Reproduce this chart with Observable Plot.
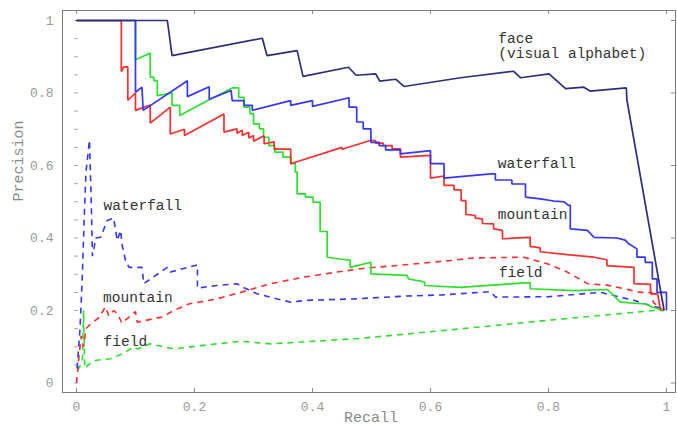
<!DOCTYPE html>
<html>
<head>
<meta charset="utf-8">
<script src="https://cdn.jsdelivr.net/npm/d3@7"></script>
<script src="https://cdn.jsdelivr.net/npm/@observablehq/plot@0.6"></script>
<style>
  html, body { margin: 0; padding: 0; background: #fff; }
  #chart svg { display: block; }
</style>
</head>
<body>
<div id="chart"></div>
<script>
// ---- Axis ticks ----
const xTicks = [0, 0.2, 0.4, 0.6, 0.8, 1];
const yTicks = [0, 0.2, 0.4, 0.6, 0.8, 1];
const yMinorTicks = [0, 0.05, 0.1, 0.15, 0.2, 0.25, 0.3, 0.35, 0.4, 0.45, 0.5, 0.55, 0.6, 0.65, 0.7, 0.75, 0.8, 0.85, 0.9, 0.95, 1];

// ---- face (visual alphabet), solid ----
const faceRecall    = [0, 0.154, 0.162, 0.315, 0.323, 0.374, 0.384, 0.461, 0.474, 0.507, 0.514, 0.541, 0.555, 0.651, 0.741, 0.753, 0.801, 0.829, 0.86, 0.871, 0.932, 0.933, 0.996];
const facePrecision = [1, 1, 0.903, 0.951, 0.903, 0.917, 0.846, 0.871, 0.849, 0.853, 0.833, 0.838, 0.818, 0.842, 0.86, 0.842, 0.853, 0.812, 0.816, 0.805, 0.814, 0.78, 0.2];

// ---- waterfall, solid ----
const waterfallRecall    = [0, 0.1, 0.1, 0.111, 0.113, 0.188, 0.188, 0.225, 0.225, 0.262, 0.264, 0.284, 0.284, 0.298, 0.298, 0.363, 0.363, 0.4, 0.4, 0.462, 0.462, 0.475, 0.475, 0.486, 0.486, 0.499, 0.499, 0.513, 0.513, 0.524, 0.524, 0.549, 0.549, 0.6, 0.6, 0.623, 0.623, 0.702, 0.71, 0.71, 0.738, 0.738, 0.761, 0.761, 0.786, 0.809, 0.826, 0.834, 0.837, 0.837, 0.866, 0.877, 0.916, 0.93, 0.936, 0.95, 0.95, 0.964, 0.964, 0.976, 0.976, 0.984, 0.984, 1.0, 1.0];
const waterfallPrecision = [1, 1, 0.802, 0.816, 0.752, 0.834, 0.79, 0.817, 0.783, 0.807, 0.779, 0.779, 0.766, 0.766, 0.752, 0.779, 0.766, 0.779, 0.763, 0.787, 0.761, 0.761, 0.72, 0.72, 0.701, 0.701, 0.664, 0.664, 0.655, 0.655, 0.643, 0.643, 0.632, 0.641, 0.605, 0.605, 0.565, 0.577, 0.577, 0.56, 0.56, 0.549, 0.549, 0.513, 0.508, 0.502, 0.5, 0.49, 0.49, 0.425, 0.421, 0.402, 0.4, 0.394, 0.384, 0.37, 0.347, 0.347, 0.333, 0.333, 0.287, 0.287, 0.25, 0.25, 0.2];

// ---- mountain, solid ----
const mountainRecall    = [0, 0.076, 0.076, 0.08, 0.087, 0.087, 0.1, 0.1, 0.125, 0.125, 0.159, 0.159, 0.183, 0.183, 0.25, 0.25, 0.272, 0.272, 0.281, 0.281, 0.292, 0.292, 0.3, 0.3, 0.318, 0.318, 0.335, 0.335, 0.363, 0.363, 0.45, 0.45, 0.498, 0.507, 0.507, 0.52, 0.52, 0.535, 0.535, 0.549, 0.549, 0.6, 0.6, 0.623, 0.623, 0.64, 0.64, 0.652, 0.652, 0.66, 0.66, 0.676, 0.676, 0.688, 0.688, 0.707, 0.707, 0.722, 0.722, 0.769, 0.769, 0.786, 0.786, 0.832, 0.877, 0.899, 0.899, 0.945, 0.945, 0.973, 0.973, 0.985, 0.99];
const mountainPrecision = [1, 1, 0.859, 0.872, 0.872, 0.78, 0.8, 0.752, 0.767, 0.717, 0.761, 0.687, 0.7, 0.683, 0.742, 0.692, 0.701, 0.689, 0.697, 0.683, 0.692, 0.676, 0.683, 0.667, 0.682, 0.66, 0.665, 0.645, 0.645, 0.605, 0.65, 0.645, 0.669, 0.669, 0.662, 0.662, 0.655, 0.655, 0.646, 0.646, 0.623, 0.628, 0.565, 0.571, 0.545, 0.545, 0.533, 0.533, 0.503, 0.503, 0.465, 0.462, 0.455, 0.453, 0.44, 0.439, 0.425, 0.421, 0.398, 0.402, 0.377, 0.373, 0.362, 0.354, 0.347, 0.34, 0.324, 0.319, 0.274, 0.272, 0.246, 0.246, 0.2];

// ---- field, solid ----
const fieldRecall    = [0, 0.1, 0.1, 0.125, 0.125, 0.131, 0.131, 0.137, 0.137, 0.162, 0.162, 0.175, 0.175, 0.224, 0.264, 0.275, 0.275, 0.284, 0.284, 0.294, 0.294, 0.3, 0.3, 0.31, 0.31, 0.317, 0.317, 0.326, 0.326, 0.336, 0.336, 0.35, 0.35, 0.364, 0.364, 0.371, 0.371, 0.374, 0.374, 0.388, 0.388, 0.401, 0.401, 0.413, 0.413, 0.425, 0.425, 0.445, 0.464, 0.464, 0.499, 0.499, 0.56, 0.563, 0.59, 0.59, 0.651, 0.758, 0.769, 0.769, 0.843, 0.9, 0.911, 0.922, 0.964, 0.977, 0.996];
const fieldPrecision = [1, 1, 0.892, 0.91, 0.844, 0.844, 0.834, 0.834, 0.793, 0.8, 0.766, 0.766, 0.738, 0.781, 0.814, 0.814, 0.788, 0.788, 0.761, 0.761, 0.743, 0.743, 0.715, 0.715, 0.701, 0.701, 0.678, 0.678, 0.655, 0.655, 0.637, 0.637, 0.623, 0.623, 0.605, 0.605, 0.582, 0.582, 0.522, 0.522, 0.513, 0.513, 0.499, 0.499, 0.418, 0.418, 0.347, 0.342, 0.339, 0.319, 0.333, 0.301, 0.297, 0.287, 0.279, 0.269, 0.264, 0.276, 0.276, 0.26, 0.255, 0.258, 0.24, 0.223, 0.218, 0.209, 0.2];

// ---- waterfall, dashed ----
const waterfallDashRecall    = [0.001, 0.006, 0.01, 0.013, 0.016, 0.022, 0.025, 0.027, 0.033, 0.041, 0.052, 0.063, 0.069, 0.075, 0.077, 0.083, 0.089, 0.111, 0.114, 0.154, 0.159, 0.205, 0.205, 0.238, 0.272, 0.285, 0.306, 0.34, 0.363, 0.391, 0.47, 0.56, 0.62, 0.702, 0.71, 0.8, 0.888, 0.945, 0.97, 0.995];
const waterfallDashPrecision = [0.04, 0.15, 0.3, 0.45, 0.58, 0.67, 0.5, 0.35, 0.4, 0.402, 0.448, 0.455, 0.393, 0.421, 0.384, 0.338, 0.319, 0.319, 0.274, 0.319, 0.306, 0.326, 0.262, 0.269, 0.274, 0.262, 0.246, 0.232, 0.223, 0.228, 0.232, 0.24, 0.243, 0.252, 0.237, 0.238, 0.25, 0.228, 0.215, 0.205];

// ---- mountain, dashed ----
const mountainDashRecall    = [0, 0.004, 0.008, 0.012, 0.016, 0.024, 0.038, 0.049, 0.055, 0.063, 0.07, 0.077, 0.1, 0.103, 0.145, 0.165, 0.19, 0.238, 0.289, 0.329, 0.385, 0.442, 0.49, 0.55, 0.634, 0.673, 0.758, 0.798, 0.832, 0.866, 0.9, 0.956, 0.975, 0.978, 0.995];
const mountainDashPrecision = [0, 0.07, 0.13, 0.1, 0.15, 0.163, 0.18, 0.21, 0.185, 0.2, 0.19, 0.165, 0.197, 0.168, 0.182, 0.2, 0.218, 0.232, 0.255, 0.274, 0.292, 0.306, 0.317, 0.325, 0.338, 0.345, 0.347, 0.329, 0.306, 0.274, 0.27, 0.25, 0.25, 0.222, 0.2];

// ---- field, dashed ----
const fieldDashRecall    = [0.002, 0.01, 0.012, 0.014, 0.02, 0.03, 0.058, 0.077, 0.097, 0.103, 0.125, 0.165, 0.21, 0.278, 0.329, 0.38, 0.48, 0.655, 0.825, 0.98, 0.996];
const fieldDashPrecision = [0.035, 0.06, 0.2, 0.04, 0.05, 0.062, 0.067, 0.08, 0.099, 0.094, 0.108, 0.094, 0.103, 0.115, 0.108, 0.113, 0.123, 0.15, 0.177, 0.2, 0.2];

// ---- annotations ----
const labelTexts  = ["face", "(visual alphabet)", "waterfall", "mountain", "field", "waterfall", "mountain", "field"];
const labelRecall = [0.715, 0.715, 0.714, 0.714, 0.716, 0.046, 0.045, 0.046];
const labelPrec   = [0.95, 0.908, 0.607, 0.466, 0.306, 0.49, 0.237, 0.115];

// ---- build tables ----
const toRows = (rec, prec) => rec.map((r, i) => ({recall: r, precision: prec[i]}));
const face = toRows(faceRecall, facePrecision);
const waterfall = toRows(waterfallRecall, waterfallPrecision);
const mountain = toRows(mountainRecall, mountainPrecision);
const field = toRows(fieldRecall, fieldPrecision);
const waterfallDash = toRows(waterfallDashRecall, waterfallDashPrecision);
const mountainDash = toRows(mountainDashRecall, mountainDashPrecision);
const fieldDash = toRows(fieldDashRecall, fieldDashPrecision);
const labels = labelTexts.map((t, i) => ({text: t, recall: labelRecall[i], precision: labelPrec[i]}));

const X0 = -0.0237, X1 = 1.0153, Y0 = -0.0262, Y1 = 1.0276;
const COL = {navy: "#2e2e7e", blue: "#3636ff", red: "#ff2e2e", green: "#2ee02e"};
const tickCol = "#8a8a8a";
const fmt = d => String(d);

const lineOpts = (color, dashed) => ({
  x: "recall", y: "precision", stroke: color,
  strokeWidth: dashed ? 1.6 : 1.7,
  strokeDasharray: dashed ? "6,5" : null,
  strokeLinejoin: "miter", strokeLinecap: "butt"
});

const chart = Plot.plot({
  width: 677,
  height: 426,
  marginLeft: 62,
  marginRight: 2,
  marginTop: 10,
  marginBottom: 34,
  x: {domain: [X0, X1]},
  y: {domain: [Y0, Y1]},
  style: {fontFamily: "'Liberation Mono', 'DejaVu Sans Mono', monospace", background: "#ffffff", overflow: "visible"},
  marks: [
    // minor y ticks near x = 0
    Plot.ruleY(yMinorTicks, {y: d => d, x1: -0.003, x2: 0.003, stroke: "#a0a0a0", strokeWidth: 1}),
    // inward major ticks on bottom/top/right
    Plot.ruleX(xTicks, {x: d => d, y1: Y0, y2: Y0 + 0.011, stroke: tickCol}),
    Plot.ruleX(xTicks, {x: d => d, y1: Y1, y2: Y1 - 0.011, stroke: tickCol}),
    Plot.ruleY(yTicks, {y: d => d, x1: X1, x2: X1 - 0.007, stroke: tickCol}),
    // axes (labels only)
    Plot.axisX(xTicks, {tickSize: 0, tickPadding: 9, tickFormat: fmt, fontSize: 13, color: "#9a9a9a", label: null}),
    Plot.axisY(yTicks, {tickSize: 0, tickPadding: 9, tickFormat: fmt, fontSize: 13, color: "#9a9a9a", label: null}),
    Plot.text(["Recall"], {frameAnchor: "bottom", dx: 2, dy: 29, fontSize: 15, fill: "#8a8a8a"}),
    Plot.text(["Precision"], {frameAnchor: "left", dx: -44, rotate: -90, fontSize: 15, fill: "#8a8a8a"}),
    // dashed curves
    Plot.line(fieldDash, lineOpts(COL.green, true)),
    Plot.line(mountainDash, lineOpts(COL.red, true)),
    Plot.line(waterfallDash, lineOpts(COL.blue, true)),
    // solid curves
    Plot.line(field, lineOpts(COL.green, false)),
    Plot.line(mountain, lineOpts(COL.red, false)),
    Plot.line(waterfall, lineOpts(COL.blue, false)),
    Plot.line(face, lineOpts(COL.navy, false)),
    // annotations
    Plot.text(labels, {x: "recall", y: "precision", text: "text", textAnchor: "start", fontSize: 14.5, fill: "#333"}),
    Plot.frame({stroke: "#7a7a7a", strokeWidth: 1})
  ]
});

document.getElementById("chart").appendChild(chart);
</script>
</body>
</html>
